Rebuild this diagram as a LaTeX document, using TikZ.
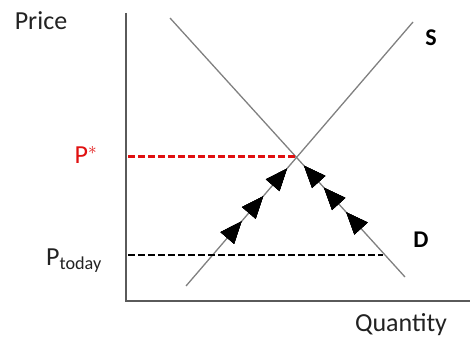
\documentclass[tikz,border=0pt]{standalone}
\usepackage{fontspec}
\setmainfont{Carlito}
\usetikzlibrary{arrows.meta, decorations.markings}
\definecolor{AxisGray}{HTML}{5A5A5A}
\definecolor{CurveGray}{HTML}{808080}
\definecolor{EqRed}{HTML}{E01010}
\definecolor{LabelBlack}{HTML}{222222}
\tikzset{
    % Axes and curves
    axisline/.style={
        draw=AxisGray,
        line width=1.6pt
    },
    curveline/.style={
        draw=CurveGray,
        line width=1.3pt
    },
    % Price levels
    levelline/.style={
        line width=2.2pt,
        dash pattern=on 6.5pt off 3.5pt
    },
    % Adjustment arrows along a curve
    flowmarks/.style={
        postaction={decorate},
        decoration={markings,
            mark=at position #1 with {\arrow{Triangle[length=22pt,width=18pt]}}}
    },
    axislabel/.style={
        font=\fontsize{26}{28}\selectfont,
        text=LabelBlack
    },
    curvelabel/.style={
        font=\fontsize{24}{26}\selectfont\bfseries,
        text=black
    }
}
\begin{document}
\begin{tikzpicture}[x=1pt, y=-1pt]
    \useasboundingbox (0,0) rectangle (470,339);

    % Axes
    \coordinate (origin) at (126,301);
    \coordinate (ytop) at (126,13);
    \coordinate (xend) at (470,301);
    \draw[axisline] (ytop) -- (origin) -- (xend);

    % Supply and demand
    \coordinate (s0) at (186,286);
    \coordinate (s1) at (413,22);
    \coordinate (d0) at (405,277);
    \coordinate (d1) at (170,18);
    \draw[curveline] (s0) -- (s1);
    \draw[curveline] (d0) -- (d1);
    \coordinate (eq) at (296,156.5);

    % Price levels
    \coordinate (pstar) at (128,156.5);
    \coordinate (ptoday) at (128,255);
    \coordinate (dtoday) at (383,255);
    \draw[levelline, EqRed] (pstar) -- (eq);
    \draw[levelline, black] (ptoday) -- (dtoday);

    % Adjustment towards equilibrium
    \path[flowmarks=0.245, flowmarks=0.34, flowmarks=0.445] (s0) -- (s1);
    \path[flowmarks=0.25, flowmarks=0.345, flowmarks=0.43] (d0) -- (d1);

    % Labels
    \node[axislabel] (price) at (41,21) {Price};
    \node[axislabel] (quantity) at (401,325) {Quantity};
    \node[axislabel, text=EqRed] (pstarlbl) at (86,155) {P$^{*}$};
    \node[axislabel] (ptodaylbl) at (74,261) {P\textsubscript{today}};
    \node[curvelabel] (slbl) at (431,38) {S};
    \node[curvelabel] (dlbl) at (421,240) {D};
\end{tikzpicture}
\end{document}
